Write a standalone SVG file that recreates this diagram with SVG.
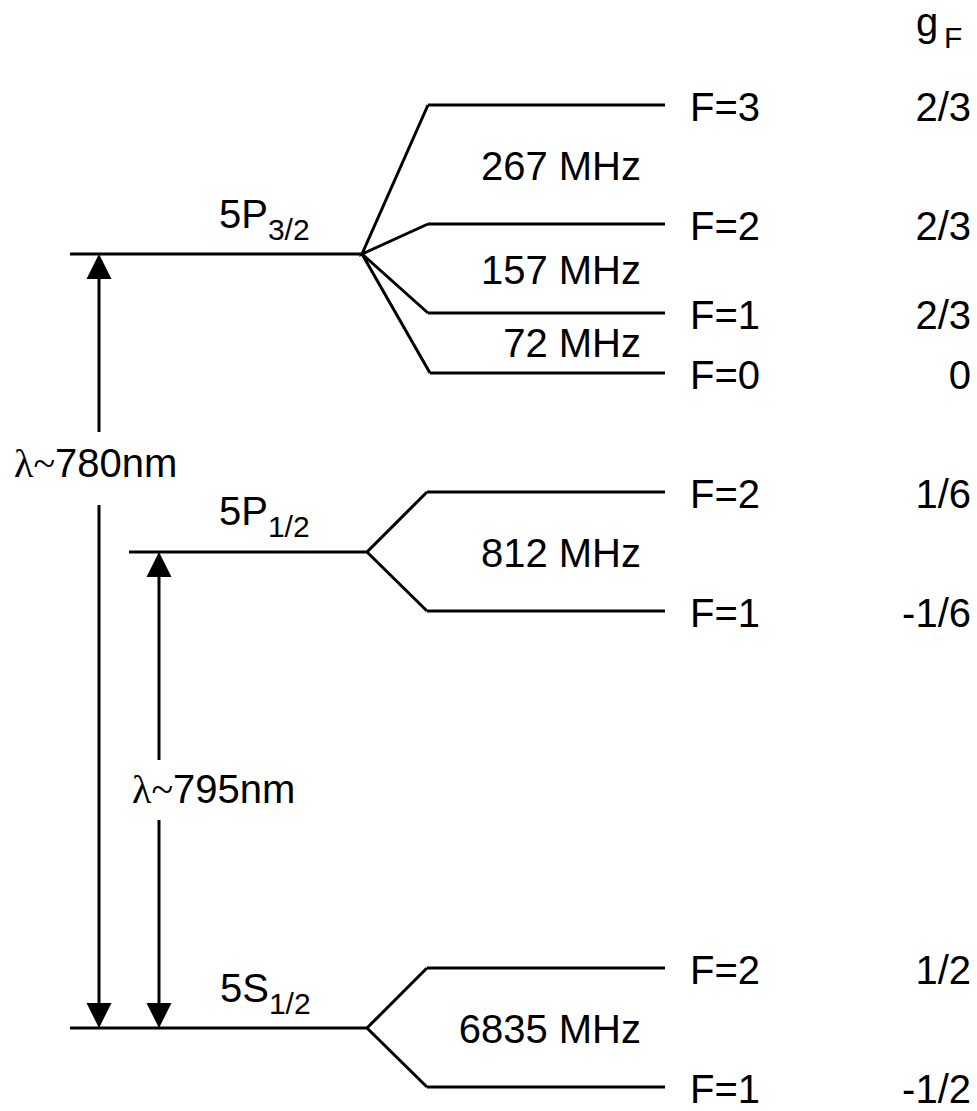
<svg xmlns="http://www.w3.org/2000/svg" width="977" height="1111" viewBox="0 0 977 1111">
<style>
.lv{fill:none;stroke:#000;stroke-width:3;stroke-linejoin:miter;stroke-linecap:butt}
.ar{fill:none;stroke:#000;stroke-width:3}
.hd{fill:#000;stroke:none}
text{font-family:"Liberation Sans",Arial,sans-serif;font-size:40px;fill:#000}
.sub{font-size:30px}
.sym{font-family:"Liberation Serif","Times New Roman",serif}
.r{text-anchor:end}
</style>
<rect width="977" height="1111" fill="#fff"/>
<g id="header">
<text x="916" y="36">g</text>
<text x="944" y="48" class="sub">F</text>
</g>
<g id="level-5P32">
<path class="lv" d="M70,254 H362 M428,105 L362,254 L428,224 M362,254 L428,313 M362,254 L430,373 M428,105 H665 M428,224 H665 M428,313 H665 M430,373 H665"/>
<text x="219" y="228">5P<tspan class="sub" dy="12">3/2</tspan></text>
<text x="641" y="180" class="r">267 MHz</text>
<text x="641" y="284" class="r">157 MHz</text>
<text x="641" y="357" class="r">72 MHz</text>
<text x="690" y="121">F=3</text>
<text x="690" y="240">F=2</text>
<text x="690" y="329">F=1</text>
<text x="690" y="389">F=0</text>
<text x="971" y="121" class="r">2/3</text>
<text x="971" y="240" class="r">2/3</text>
<text x="971" y="329" class="r">2/3</text>
<text x="971" y="389" class="r">0</text>
</g>
<g id="level-5P12">
<path class="lv" d="M129,552 H367 M427,492 L367,552 L427,611 M427,492 H665 M427,611 H665"/>
<text x="219" y="525">5P<tspan class="sub" dy="12">1/2</tspan></text>
<text x="641" y="567" class="r">812 MHz</text>
<text x="690" y="508">F=2</text>
<text x="690" y="627">F=1</text>
<text x="971" y="508" class="r">1/6</text>
<text x="971" y="627" class="r">-1/6</text>
</g>
<g id="level-5S12">
<path class="lv" d="M70,1028 H367 M427,968 L367,1028 L427,1087 M427,968 H665 M427,1087 H665"/>
<text x="220" y="1002">5S<tspan class="sub" dy="12">1/2</tspan></text>
<text x="641" y="1043" class="r">6835 MHz</text>
<text x="690" y="984">F=2</text>
<text x="690" y="1103">F=1</text>
<text x="971" y="984" class="r">1/2</text>
<text x="971" y="1103" class="r">-1/2</text>
</g>
<g id="connectors">
<path class="ar" d="M99,277 V432 M99,505 V1005"/>
<polygon class="hd" points="99,254 86.5,279 111.5,279"/>
<polygon class="hd" points="99,1028 86.5,1003 111.5,1003"/>
<text x="14" y="477"><tspan class="sym">λ~</tspan>780nm</text>
<path class="ar" d="M159,575 V760 M159,820 V1005"/>
<polygon class="hd" points="159,552 146.5,577 171.5,577"/>
<polygon class="hd" points="159,1028 146.5,1003 171.5,1003"/>
<text x="132" y="803"><tspan class="sym">λ~</tspan>795nm</text>
</g>
</svg>
